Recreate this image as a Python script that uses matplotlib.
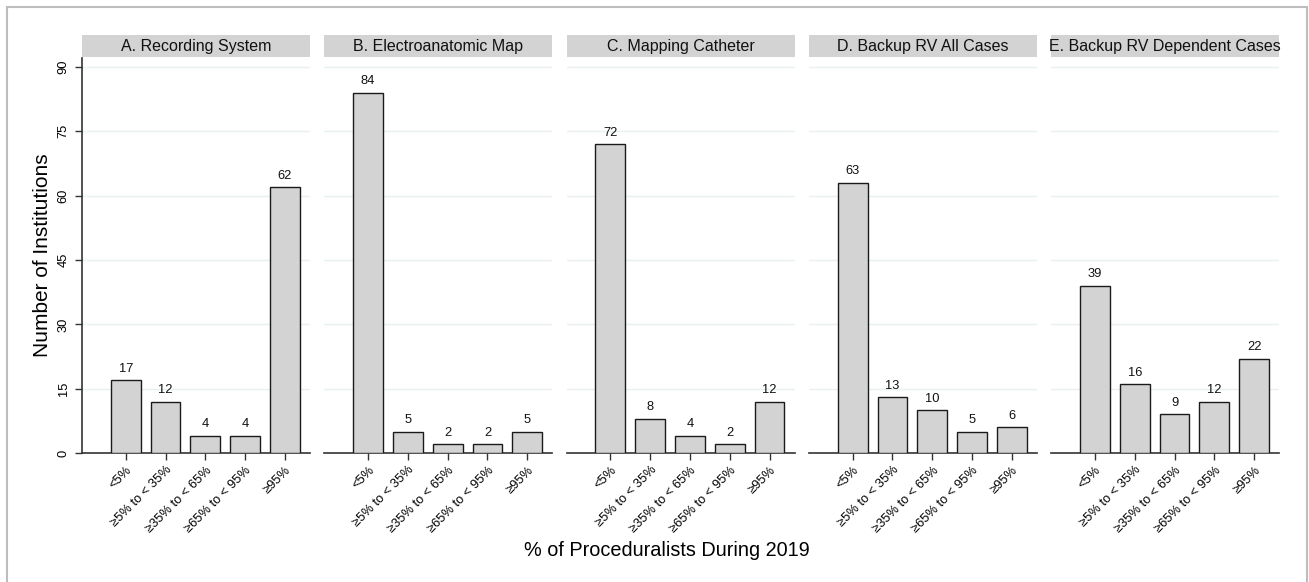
import matplotlib
matplotlib.use("Agg")
import matplotlib.pyplot as plt
from matplotlib.patches import Rectangle

plt.rcParams['font.family'] = ['Liberation Sans', 'DejaVu Sans']

categories = ["<5%", "≥5% to < 35%", "≥35% to < 65%", "≥65% to < 95%", "≥95%"]
panel_titles = ["A. Recording System", "B. Electroanatomic Map", "C. Mapping Catheter",
                "D. Backup RV All Cases", "E. Backup RV Dependent Cases"]
recording_system = [17, 12, 4, 4, 62]
electroanatomic_map = [84, 5, 2, 2, 5]
mapping_catheter = [72, 8, 4, 2, 12]
backup_rv_all = [63, 13, 10, 5, 6]
backup_rv_dependent = [39, 16, 9, 12, 22]
series = [recording_system, electroanatomic_map, mapping_catheter, backup_rv_all, backup_rv_dependent]
yticks = [0, 15, 30, 45, 60, 75, 90]
xlabel = "% of Proceduralists During 2019"
ylabel = "Number of Institutions"

W, H = 1309, 582
fig = plt.figure(figsize=(W / 100, H / 100), dpi=100)

# outer frame
frame = Rectangle((7 / W, -0.01), (1307 - 7) / W, 1 - 7 / H + 0.01, transform=fig.transFigure,
                  fill=False, edgecolor='#bdbdbd', linewidth=1.5)
fig.patches.append(frame)

left0 = 82
pw = 228
step = 242.3
ax_bottom_px = 453
ax_top_px = 58
strip_top_px = 35

axis_color = '#333333'
fs_small = 9.3
for i, (title, vals) in enumerate(zip(panel_titles, series)):
    lx = left0 + i * step
    ax = fig.add_axes([lx / W, 1 - ax_bottom_px / H, pw / W, (ax_bottom_px - ax_top_px) / H])
    x = list(range(len(categories)))
    ax.bar(x, vals, width=0.75, color='#d3d3d3', edgecolor='#1a1a1a', linewidth=1.0, zorder=3)
    for xi, v in zip(x, vals):
        ax.annotate(str(v), (xi, v), xytext=(0, 4), textcoords='offset points',
                    ha='center', va='bottom', fontsize=fs_small, color='#111111')
    ax.set_xlim(-1.1, 4.63)
    ax.set_ylim(0, 90 * (ax_bottom_px - ax_top_px) / (ax_bottom_px - 67))
    ax.set_yticks(yticks)
    for t in yticks[1:]:
        ax.axhline(t, color='#e8f0f1', linewidth=1.0, zorder=1)
    ax.set_xticks(x)
    ax.set_xticklabels(categories, rotation=45, ha='right', rotation_mode='anchor', fontsize=fs_small)
    ax.tick_params(axis='x', length=5, width=1, color=axis_color, pad=3)
    for s in ['top', 'right']:
        ax.spines[s].set_visible(False)
    ax.spines['bottom'].set_color(axis_color)
    ax.spines['bottom'].set_linewidth(1.2)
    if i == 0:
        ax.spines['left'].set_color(axis_color)
        ax.spines['left'].set_linewidth(1.2)
        ax.tick_params(axis='y', length=5, width=1, color=axis_color, labelsize=fs_small, pad=4)
        for lab in ax.get_yticklabels():
            lab.set_rotation(90)
            lab.set_va('center')
        ax.set_ylabel(ylabel, fontsize=15, labelpad=4)
    else:
        ax.spines['left'].set_visible(False)
        ax.tick_params(axis='y', left=False, labelleft=False)
    # strip
    sax = fig.add_axes([lx / W, 1 - ax_top_px / H + 1 / H, pw / W, (ax_top_px - strip_top_px - 1) / H])
    sax.set_facecolor('#d3d3d3')
    sax.set_xticks([]); sax.set_yticks([])
    for s in sax.spines.values():
        s.set_visible(False)
    sax.text(0.5, 0.5, title, ha='center', va='center', fontsize=11.5, color='#111111',
             transform=sax.transAxes, clip_on=False)

fig.text(667 / W, 1 - 551 / H, xlabel, ha='center', va='center', fontsize=14.3)

fig.savefig("out.png", dpi=100)
